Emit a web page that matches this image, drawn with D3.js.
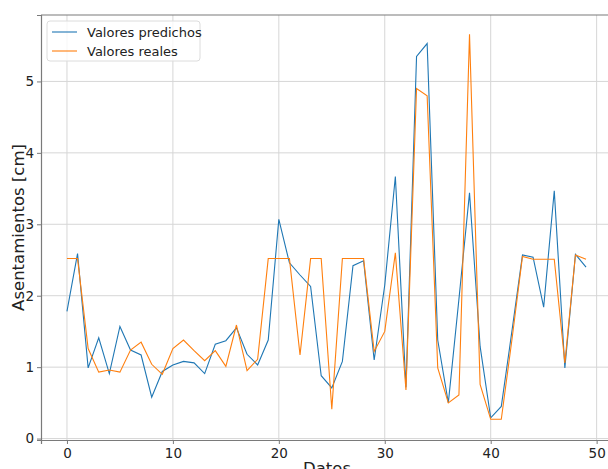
<!DOCTYPE html>
<html>
<head>
<meta charset="utf-8">
<script src="https://cdn.jsdelivr.net/npm/d3@7"></script>
<style>
  body { margin: 0; background: #fff; overflow: hidden; }
  svg { display: block; font-family: "DejaVu Sans", sans-serif; }
</style>
</head>
<body>
<div id="chart"></div>
<script>
// data
const predichos = [1.78, 2.59, 0.99, 1.41, 0.91, 1.57, 1.24, 1.17, 0.58, 0.94,
  1.03, 1.08, 1.06, 0.91, 1.32, 1.37, 1.55, 1.18, 1.03, 1.38,
  3.07, 2.46, 2.29, 2.13, 0.88, 0.71, 1.08, 2.42, 2.49, 1.10,
  2.15, 3.67, 0.72, 5.35, 5.53, 1.38, 0.50, 1.95, 3.44, 1.29,
  0.29, 0.45, 1.50, 2.57, 2.54, 1.84, 3.47, 0.99, 2.58, 2.40];
const reales = [2.52, 2.52, 1.26, 0.93, 0.96, 0.93, 1.24, 1.35, 1.04, 0.90,
  1.26, 1.38, 1.23, 1.09, 1.23, 1.01, 1.59, 0.95, 1.11, 2.52,
  2.52, 2.52, 1.17, 2.52, 2.52, 0.41, 2.52, 2.52, 2.52, 1.22,
  1.50, 2.60, 0.68, 4.90, 4.80, 0.99, 0.50, 0.61, 5.66, 0.76,
  0.27, 0.27, 1.38, 2.55, 2.51, 2.51, 2.51, 1.06, 2.57, 2.51];
const xTicks = [0, 10, 20, 30, 40, 50];
const yTicks = [0, 1, 2, 3, 4, 5];
const seriesNames = ["Valores predichos", "Valores reales"];
const seriesColors = ["#1f77b4", "#ff7f0e"];

const W = 608, H = 469;
const margin = { top: 15, right: -4, bottom: 29, left: 41 };
const width = W - margin.left - margin.right,
      height = H - margin.top - margin.bottom;

const svg = d3.select("#chart").append("svg")
  .attr("width", W).attr("height", H);

const g = svg.append("g")
  .attr("transform", `translate(${margin.left},${margin.top})`);

const x = d3.scaleLinear().domain([-2.45, 51.45]).range([0, width]);
const y = d3.scaleLinear().domain([-0.02, 5.93]).range([height, 0]);

// grid
g.append("g").selectAll("line").data(xTicks).join("line")
  .attr("x1", d => x(d)).attr("x2", d => x(d))
  .attr("y1", 0).attr("y2", height)
  .attr("stroke", "#d6d6d6").attr("stroke-width", 1);
g.append("g").selectAll("line").data(yTicks).join("line")
  .attr("x1", 0).attr("x2", width)
  .attr("y1", d => y(d)).attr("y2", d => y(d))
  .attr("stroke", "#d6d6d6").attr("stroke-width", 1);

// axes
const xAxis = g.append("g")
  .attr("transform", `translate(0,${height})`)
  .call(d3.axisBottom(x).tickValues(xTicks).tickSize(4).tickPadding(4).tickFormat(d3.format("d")));
const yAxis = g.append("g")
  .call(d3.axisLeft(y).tickValues(yTicks).tickSize(4).tickPadding(3).tickFormat(d3.format("d")));

[xAxis, yAxis].forEach(a => {
  a.select(".domain").attr("stroke", "#7a7a7a").attr("stroke-width", 1.2);
  a.selectAll(".tick line").attr("stroke", "#7a7a7a");
  a.selectAll(".tick text")
    .attr("fill", "#222")
    .style("font-family", "DejaVu Sans")
    .style("font-size", "13.5px");
});

// top spine
g.append("line")
  .attr("x1", 0).attr("x2", width).attr("y1", 0).attr("y2", 0)
  .attr("stroke", "#7a7a7a").attr("stroke-width", 1.2);

// lines
const line = d3.line()
  .x((d, i) => x(i))
  .y(d => y(d));

[predichos, reales].forEach((s, k) => {
  g.append("path")
    .datum(s)
    .attr("fill", "none")
    .attr("stroke", seriesColors[k])
    .attr("stroke-width", 1.1)
    .attr("stroke-linejoin", "miter")
    .attr("d", line);
});

// axis labels
svg.append("text")
  .attr("x", 327).attr("y", 474)
  .attr("text-anchor", "middle")
  .style("font-size", "16.5px")
  .attr("fill", "#222")
  .text("Datos");

svg.append("text")
  .attr("transform", `translate(24,${margin.top + height / 2}) rotate(-90)`)
  .attr("text-anchor", "middle")
  .style("font-size", "16.5px")
  .attr("fill", "#222")
  .text("Asentamientos [cm]");

// legend
const legend = g.append("g").attr("transform", "translate(6,6)");
legend.append("rect")
  .attr("width", 153).attr("height", 40)
  .attr("rx", 3)
  .attr("fill", "#fff").attr("fill-opacity", 0.8)
  .attr("stroke", "#dcdcdc");
seriesNames.forEach((name, i) => {
  const row = legend.append("g").attr("transform", `translate(0,${11 + i * 19})`);
  row.append("line")
    .attr("x1", 5).attr("x2", 30)
    .attr("stroke", seriesColors[i]).attr("stroke-width", 1.1);
  row.append("text")
    .attr("x", 40).attr("y", 4.5)
    .style("font-size", "13px")
    .attr("fill", "#222")
    .text(name);
});
</script>
</body>
</html>
